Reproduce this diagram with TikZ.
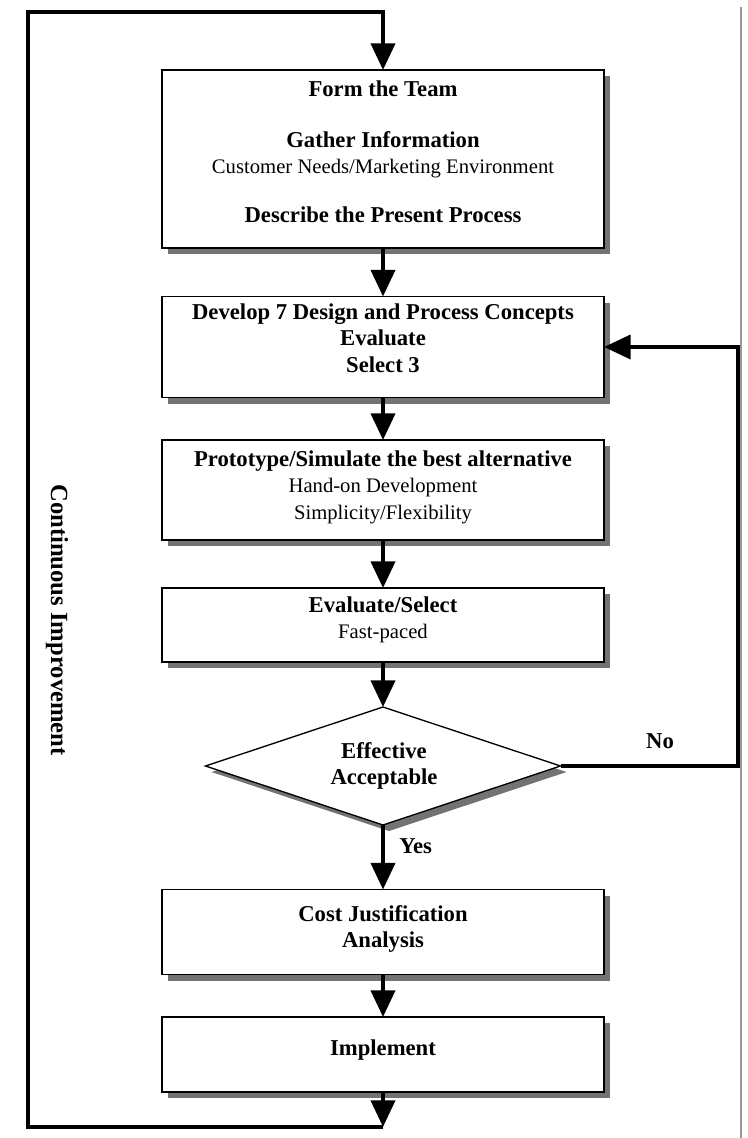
\documentclass[tikz,border=0pt]{standalone}
\usepackage{fontspec}
\setmainfont{Liberation Serif}
\usetikzlibrary{arrows.meta,shapes.geometric,shadows}

\newcommand\bsz{\fontsize{17}{19.8}\selectfont\bfseries}
\newcommand\rsz{\fontsize{15.5}{19.8}\selectfont\mdseries}

\begin{document}
\begin{tikzpicture}[x=0.75pt,y=-0.75pt,
  flow/.style={line width=3pt,line join=miter},
  arr/.style={flow,-{Triangle[length=20pt,width=18pt]}},
  boxshadow/.style={drop shadow={shadow xshift=4.5pt,shadow yshift=-4.5pt,opacity=1,fill=black!55}},
  stepbox/.style={draw,line width=1pt,fill=white,inner sep=0pt,outer sep=0pt,
    minimum width=331.5pt,boxshadow},
  decision/.style={diamond,draw,line width=1pt,fill=white,inner sep=0pt,outer sep=0pt,
    minimum width=266.25pt,minimum height=88.5pt,aspect=3,boxshadow},
  txt/.style={align=center,inner sep=0pt,font=\bsz},
  lbl/.style={inner sep=0pt,font=\bsz}]

\fill[white] (0,0) rectangle (747,1138);
\useasboundingbox (0,0) rectangle (747,1138);

% page edge rule on the right
\draw[black!40,line width=0.8pt] (741,7) -- (741,1138);

% process boxes
\node[stepbox,minimum height=133.5pt] (b1) at (383,159) {};
\node[stepbox,minimum height=75.75pt] (b2) at (383,347) {};
\node[stepbox,minimum height=75pt] (b3) at (383,490) {};
\node[stepbox,minimum height=55.5pt] (b4) at (383,625) {};
\node[decision] (dia) at (383,766) {};
\node[stepbox,minimum height=63.75pt] (b5) at (383,932) {};
\node[stepbox,minimum height=56.25pt] (b6) at (383,1054.5) {};

% box texts
\node[txt] (t1) at (383,152) {Form the Team\\[18pt]Gather Information\\{\rsz Customer Needs/Marketing Environment}\\[17pt]Describe the Present Process};
\node[txt] (t2) at (383,338) {Develop 7 Design and Process Concepts\\Evaluate\\Select 3};
\node[txt] (t3) at (383,487) {Prototype/Simulate the best alternative\\{\rsz Hand-on Development}\\{\rsz Simplicity/Flexibility}};
\node[txt] (t4) at (383,620) {Evaluate/Select\\{\rsz Fast-paced}};
\node[txt] (td) at (384,766) {Effective\\Acceptable};
\node[txt] (t5) at (383,929) {Cost Justification\\Analysis};
\node[txt] (t6) at (383,1050) {Implement};

% loop helpers
\coordinate (rr) at (738,0);
\coordinate (ll) at (28,1127);
\coordinate (tl) at (28,12);

% main flow
\draw[arr] (b1.south) -- (b2.north);
\draw[arr] (b2.south) -- (b3.north);
\draw[arr] (b3.south) -- (b4.north);
\draw[arr] (b4.south) -- (dia.north);
\draw[arr] (dia.south) -- (b5.north);
\draw[arr] (b5.south) -- (b6.north);

% rework loop
\draw[arr] (dia.east) -- (dia.east -| rr) |- (b2.east);

% continuous improvement loop
\draw[arr] (b6.south) -- (b6.south |- ll);
\draw[arr] (b6.south |- ll) -- (ll) -- (tl) -| (b1.north);

% labels
\node[lbl,anchor=west] (yes) at (399,846) {Yes};
\node[lbl] (no) at (660,741) {No};
\node[lbl,rotate=-90,font=\fontsize{18.5}{20}\selectfont\bfseries] (ci) at (57,620) {Continuous Improvement};

\end{tikzpicture}
\end{document}
